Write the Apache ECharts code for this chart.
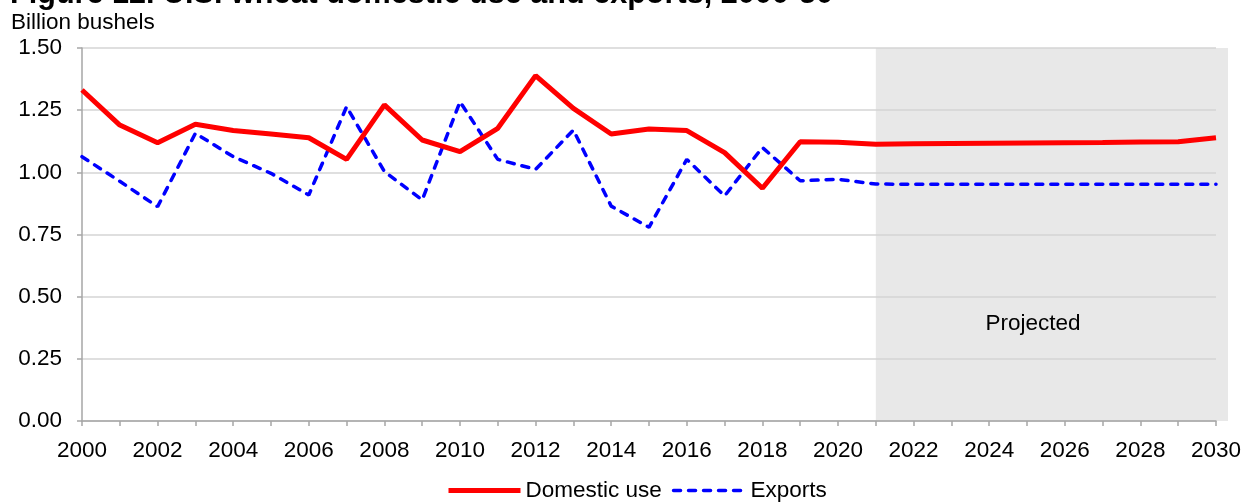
<!DOCTYPE html>
<html>
<head>
<meta charset="utf-8">
<script src="https://cdn.jsdelivr.net/npm/echarts@6/dist/echarts.min.js"></script>
<style>
html,body{margin:0;padding:0;background:#fff;}
#chart{width:1245px;height:502px;}
</style>
</head>
<body>
<div id="chart"></div>
<script>
const titleText = 'Figure 12. U.S. wheat domestic use and exports, 2000-30';
const unitText = 'Billion bushels';
const years = ['2000','2001','2002','2003','2004','2005','2006','2007','2008','2009','2010',
  '2011','2012','2013','2014','2015','2016','2017','2018','2019','2020',
  '2021','2022','2023','2024','2025','2026','2027','2028','2029','2030'];
const domesticUse = [1.331,1.190,1.119,1.193,1.168,1.154,1.139,1.052,1.271,1.130,1.083,
  1.177,1.389,1.257,1.154,1.174,1.168,1.079,0.936,1.123,1.121,
  1.113,1.115,1.116,1.117,1.118,1.119,1.120,1.122,1.123,1.139];
const exportsData = [1.063,0.964,0.862,1.157,1.063,0.996,0.909,1.264,1.003,0.889,1.284,
  1.052,1.012,1.170,0.864,0.779,1.052,0.905,1.100,0.966,0.972,
  0.953,0.952,0.952,0.952,0.952,0.952,0.952,0.952,0.952,0.952];
const projStart = '2021';
const projLabel = 'Projected';

const FONT = 'Liberation Sans, Arial, sans-serif';
const FS = 22.5;
const redStyle = {color: '#ff0000', width: 5};
const blueStyle = {color: '#0000ff', width: 3.5, type: [7, 8], cap: 'round'};
const chart = echarts.init(document.getElementById('chart'));
const option = {
  animation: false,
  backgroundColor: '#fff',
  grid: {left: 82, right: 29, top: 48, bottom: 81},
  legend: {
    left: 446, top: 479, padding: 0,
    itemWidth: 72, itemHeight: 22, itemGap: 10,
    itemStyle: {opacity: 0},
    textStyle: {fontFamily: FONT, fontSize: FS, color: '#000'},
    data: [
      {name: 'Domestic use', lineStyle: redStyle, itemStyle: {opacity: 0}},
      {name: 'Exports', lineStyle: blueStyle, itemStyle: {opacity: 0}}
    ]
  },
  xAxis: {
    type: 'category', data: years, boundaryGap: false,
    axisLine: {lineStyle: {color: '#a6a6a6', width: 1.5}},
    axisTick: {interval: 0, length: 5, lineStyle: {color: '#a6a6a6', width: 1.5}},
    axisLabel: {interval: 1, margin: 18, fontFamily: FONT, fontSize: FS, color: '#000'},
    splitLine: {show: false}
  },
  yAxis: {
    type: 'value', min: 0, max: 1.5, interval: 0.25,
    axisLine: {show: true, lineStyle: {color: '#a6a6a6', width: 1.5}},
    axisTick: {show: true, length: 5, lineStyle: {color: '#a6a6a6', width: 1.5}},
    axisLabel: {margin: 20, fontFamily: FONT, fontSize: FS, color: '#000',
      formatter: v => v.toFixed(2)},
    splitLine: {lineStyle: {color: '#d4d4d4', width: 1.5}}
  },
  series: [
    {name: 'Domestic use', type: 'line', data: domesticUse, symbol: 'none',
      color: '#ff0000', lineStyle: redStyle, z: 3},
    {name: 'Exports', type: 'line', data: exportsData, symbol: 'none',
      color: '#0000ff', lineStyle: blueStyle, z: 2}
  ]
};
chart.setOption(option);

function decorate() {
  const x0 = chart.convertToPixel({xAxisIndex: 0}, projStart);
  const xEnd = chart.convertToPixel({xAxisIndex: 0}, years[years.length - 1]);
  const yTop = chart.convertToPixel({yAxisIndex: 0}, 1.5);
  const yBot = chart.convertToPixel({yAxisIndex: 0}, 0);
  const x25 = chart.convertToPixel({xAxisIndex: 0}, '2025');
  const x26 = chart.convertToPixel({xAxisIndex: 0}, '2026');
  const xMid = x25 + 0.16 * (x26 - x25);
  const yMid = chart.convertToPixel({yAxisIndex: 0}, 0.39);
  chart.setOption({
    graphic: [
      {type: 'rect', z: -10, silent: true,
        shape: {x: x0, y: yTop, width: xEnd - x0 + 12, height: yBot - yTop},
        style: {fill: '#e8e8e8'}},
      {type: 'text', z: 10, silent: true, x: xMid, y: yMid,
        style: {text: projLabel, fontFamily: FONT, fontSize: FS, fill: '#000',
          align: 'center', verticalAlign: 'middle'}},
      {type: 'text', z: 10, silent: true, x: 11, y: 23,
        style: {text: unitText, fontFamily: FONT, fontSize: FS, fill: '#000',
          align: 'left', verticalAlign: 'middle'}},
      {type: 'text', z: 10, silent: true, x: 10, y: -5,
        style: {text: titleText, fontFamily: FONT, fontSize: 30.6, fontWeight: 'bold', fill: '#000',
          align: 'left', verticalAlign: 'middle'}}
    ]
  });
}
decorate();
</script>
</body>
</html>
